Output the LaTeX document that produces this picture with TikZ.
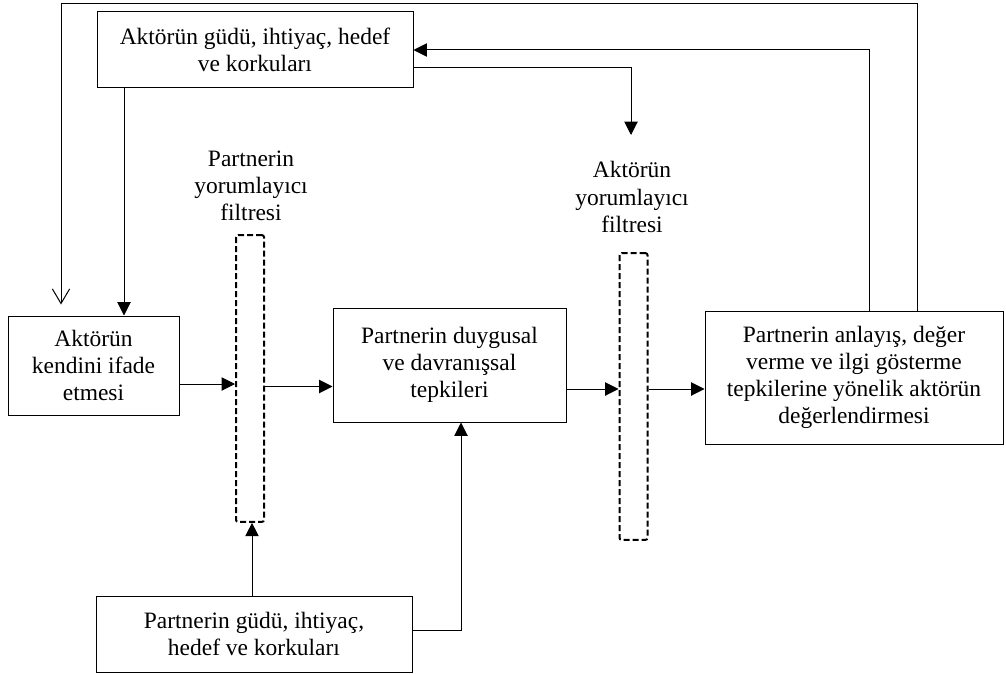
\documentclass[tikz,border=0pt]{standalone}
\usepackage{fontspec}
\setmainfont{Liberation Serif}
\usepackage{tikz}
\usetikzlibrary{arrows.meta,positioning,calc}

\begin{document}
\begin{tikzpicture}[x=0.75pt, y=-0.75pt,
    box/.style={rectangle, draw, line width=0.75pt, align=center, inner sep=2pt, font=\fontsize{17.6}{20.3}\selectfont},
    filt/.style={rectangle, draw, line width=1.5pt, dash pattern=on 4.5pt off 2.25pt, rounded corners=1.5pt, minimum width=21pt, minimum height=215pt},
    lbl/.style={align=center, font=\fontsize{17.6}{20.3}\selectfont},
    arr/.style={line width=0.75pt, -{Triangle[length=10pt,width=10pt]}},
    barb/.style={line width=0.75pt, -{Straight Barb[length=11pt,width=13pt]}}]
    \useasboundingbox (0,0) rectangle (1006,674);

    \node[box, minimum width=237pt, minimum height=57pt] (topbox) at (255,50) {Aktörün güdü, ihtiyaç, hedef\\ve korkuları};
    \node[box, minimum width=128.25pt, minimum height=74.25pt] (selfbox) at (93.5,365.5) {Aktörün\\kendini ifade\\etmesi};
    \node[filt] (filterP) at (250,378.5) {};
    \node[lbl] (filterPlbl) at (251,186) {Partnerin\\yorumlayıcı\\filtresi};
    \node[box, minimum width=174.75pt, minimum height=85.5pt] (reactbox) at (449.5,365) {Partnerin duygusal\\ve davranışsal\\tepkileri};
    \node[filt] (filterA) at (633.5,396.5) {};
    \node[lbl] (filterAlbl) at (632,197) {Aktörün\\yorumlayıcı\\filtresi};
    \node[box, minimum width=223.5pt, minimum height=99.75pt] (evalbox) at (854,377.5) {Partnerin anlayış, değer\\verme ve ilgi gösterme\\tepkilerine yönelik aktörün\\değerlendirmesi};
    \node[box, minimum width=237pt, minimum height=57pt] (partnerbox) at (254,634) {Partnerin güdü, ihtiyaç,\\hedef ve korkuları};

    % feedback loops
    \coordinate (looptop) at (0,4);
    \coordinate (loopend) at ($(selfbox.north)+(-32.5,-11)$);
    \coordinate (e2) at ($(evalbox.north)+(63,0)$);
    \draw[barb] (e2) -- (e2 |- looptop) -- (loopend |- looptop) -- (loopend);
    \draw[arr] ($(evalbox.north)+(15,0)$) |- (topbox.east);
    \coordinate (atip) at (631,135);
    \draw[arr] ($(topbox.east)+(0,18)$) -| (atip);

    % main flow
    \coordinate (tb1) at ($(topbox.south)+(-131,0)$);
    \draw[arr] (tb1) -- (tb1 |- selfbox.north);
    \coordinate (s1) at ($(selfbox.east)+(0,18.5)$);
    \draw[arr] (s1) -- (s1 -| filterP.west);
    \coordinate (p1) at ($(filterP.east)+(0,8)$);
    \draw[arr] (p1) -- (p1 -| reactbox.west);
    \coordinate (r1) at ($(reactbox.east)+(0,24)$);
    \draw[arr] (r1) -- (r1 -| filterA.west);
    \draw[arr] (r1 -| filterA.east) -- (r1 -| evalbox.west);

    % partner inputs
    \coordinate (pb1) at ($(partnerbox.north)+(-2,0)$);
    \draw[arr] (pb1) -- (pb1 |- filterP.south);
    \coordinate (pb2) at ($(partnerbox.east)+(0,-4)$);
    \draw[arr] (pb2) -| ($(reactbox.south)+(11.5,0)$);
\end{tikzpicture}
\end{document}
